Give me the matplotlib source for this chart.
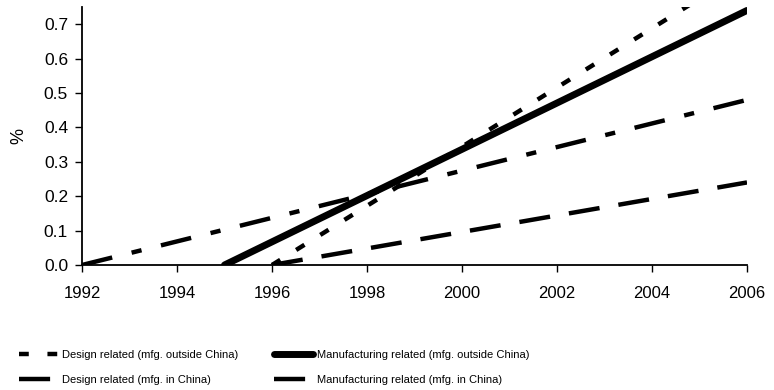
import matplotlib
matplotlib.use("Agg")
import matplotlib.pyplot as plt
from matplotlib import rcParams

rcParams["font.family"] = ["Liberation Sans", "DejaVu Sans"]

# --- data ---
design_out_x = [1996, 2006]
design_out_y = [0.0, 0.86]
mfg_out_x = [1995, 2006]
mfg_out_y = [0.0, 0.74]
design_in_x = [1992, 2006]
design_in_y = [0.0, 0.48]
mfg_in_x = [1996, 2006]
mfg_in_y = [0.0, 0.24]

x_ticks = list(range(1992, 2007, 2))
y_ticks = [0.0, 0.1, 0.2, 0.3, 0.4, 0.5, 0.6, 0.7]

fig = plt.figure(figsize=(7.74, 3.9), dpi=100)
ax = fig.add_axes([82 / 774, 1 - 265 / 390, (747 - 82) / 774, (265 - 7) / 390])

l1, = ax.plot(design_out_x, design_out_y, color="black", lw=3.2,
              linestyle=(0, (2.2, 4.2)), solid_capstyle="butt")
l2, = ax.plot(mfg_out_x, mfg_out_y, color="black", lw=5, solid_capstyle="round")
l3, = ax.plot(design_in_x, design_in_y, color="black", lw=3.2,
              linestyle=(0, (7, 4.5, 2.3, 4.5)))
l4, = ax.plot(mfg_in_x, mfg_in_y, color="black", lw=3.2,
              linestyle=(0, (7, 4.3)))

ax.set_xlim(1992, 2006)
ax.set_ylim(0, 0.75)
ax.set_xticks(x_ticks)
ax.set_yticks(y_ticks)
ax.set_yticklabels([f"{v:.1f}" for v in y_ticks])
ax.tick_params(axis="both", direction="out", length=5, width=1, colors="black")
ax.tick_params(axis="y", labelsize=12.5, pad=5)
ax.tick_params(axis="x", labelsize=12, pad=10)
ax.spines["top"].set_visible(False)
ax.spines["right"].set_visible(False)
ax.spines["left"].set_linewidth(1.3)
ax.spines["bottom"].set_linewidth(1.3)
ax.set_ylabel("%", fontsize=13, labelpad=12)

# column-major fill: left column = design, right column = manufacturing
fig.legend([l1, l3, l2, l4],
           ["Design related (mfg. outside China)",
            "Design related (mfg. in China)",
            "Manufacturing related (mfg. outside China)",
            "Manufacturing related (mfg. in China)"],
           loc="lower left", bbox_to_anchor=(0.012, -0.012), ncol=2, frameon=False,
           fontsize=8, handlelength=3.5, handletextpad=0.3, columnspacing=3.3,
           labelspacing=1.35)

fig.savefig("out.png", dpi=100)
